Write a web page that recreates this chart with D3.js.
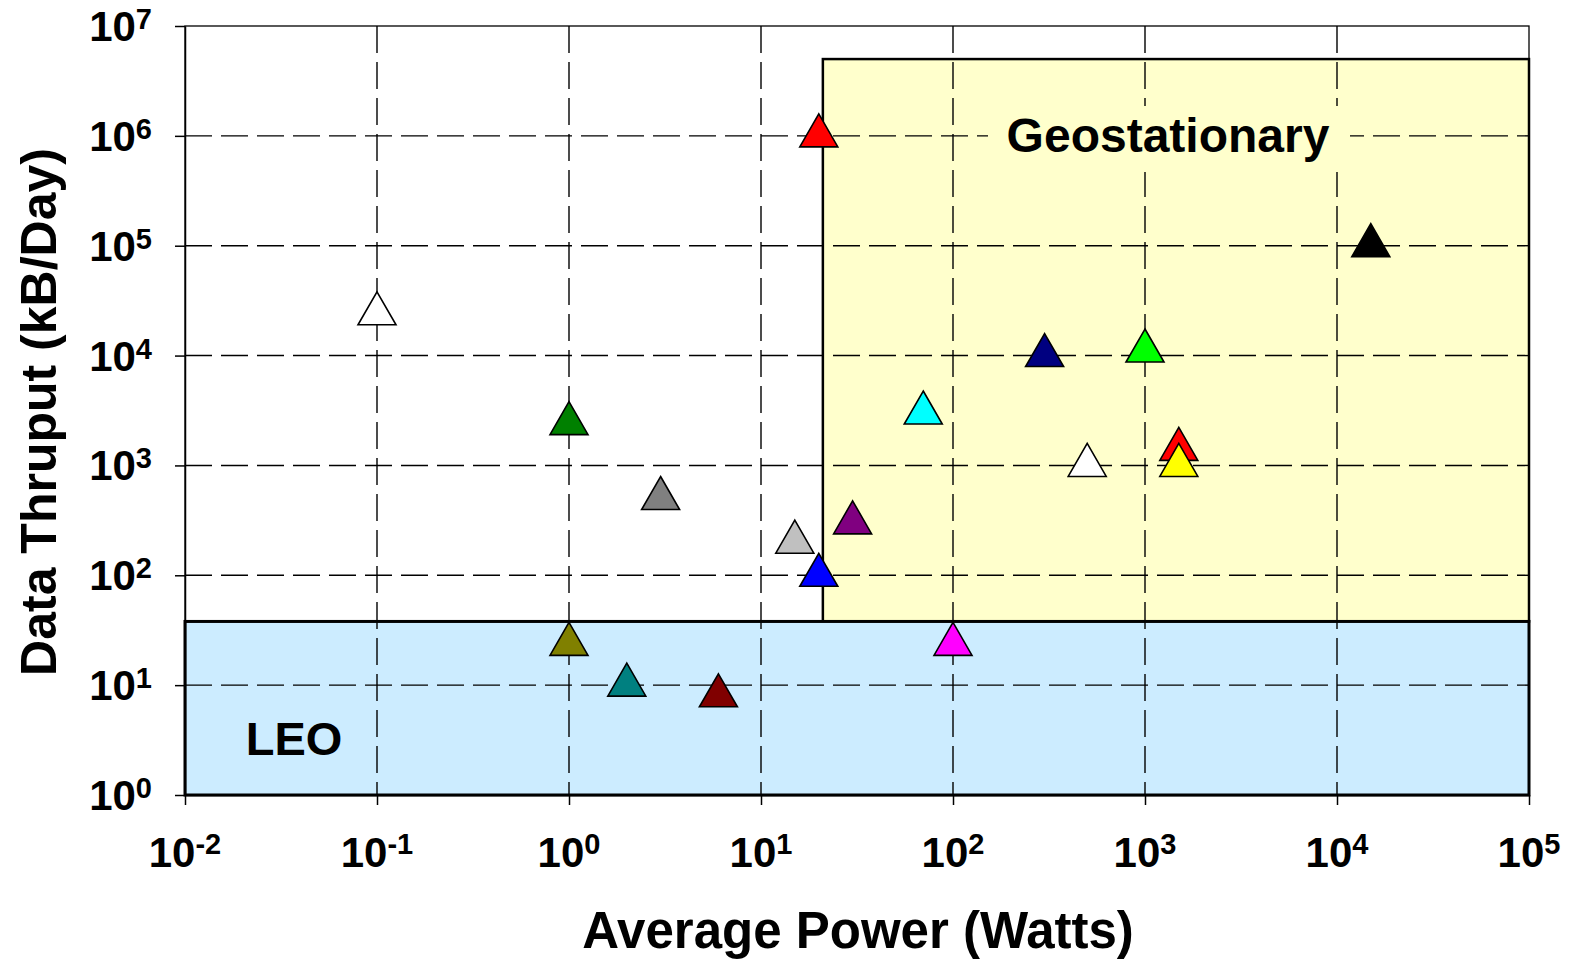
<!DOCTYPE html>
<html lang="en">
<head>
    <meta charset="UTF-8">
    <title>Data Thruput vs Average Power</title>
    <style>
        body { margin: 0; background: #fff; }
        text { font-family: "Liberation Sans", Arial, sans-serif; font-weight: bold; fill: #000; }
    </style>
</head>
<body>

    <script src="https://cdnjs.cloudflare.com/ajax/libs/d3/7.8.5/d3.min.js"></script>
    <script>
        // spacecraft points
        const powerW  = [0.1, 1, 3, 15, 20, 20, 30, 70, 300, 1000, 500, 1500, 1500, 15000, 100, 1, 2, 6];
        const thruput = [24000, 2400, 500, 200, 100, 1000000, 300, 3000, 10000, 11000, 1000, 1400, 1000, 100000, 23.5, 23.5, 10, 8];
        const colors  = ['#FFFFFF', '#008000', '#808080', '#C0C0C0', '#0000FF', '#FF0000', '#800080', '#00FFFF',
                         '#000080', '#00FF00', '#FFFFFF', '#FF0000', '#FFFF00', '#000000', '#FF00FF', '#808000',
                         '#008080', '#800000'];

        // orbit regions: [xmin, xmax] in W, [ymin, ymax] in kB/day
        const geoX = [21, 100000], geoY = [38, 5000000];
        const leoX = [0.01, 100000], leoY = [1, 38];

        const xTicks = [-2, -1, 0, 1, 2, 3, 4, 5];
        const yTicks = [0, 1, 2, 3, 4, 5, 6, 7];

        const chartWidth = 1574, chartHeight = 960;
        const plot = {left: 185, right: 1529, top: 26, bottom: 795};

        const svg = d3.select('body').append('svg')
                        .attr('width', chartWidth)
                        .attr('height', chartHeight);

        const x = d3.scaleLog().domain([1e-2, 1e5]).range([plot.left, plot.right]);
        const y = d3.scaleLog().domain([1, 1e7]).range([plot.bottom, plot.top]);

        // plot frame
        svg.append('rect')
            .attr('x', plot.left).attr('y', plot.top)
            .attr('width', plot.right - plot.left).attr('height', plot.bottom - plot.top)
            .attr('fill', '#fff').attr('stroke', '#000').attr('stroke-width', 1.3);

        // regions
        svg.append('rect')
            .attr('x', x(geoX[0])).attr('y', y(geoY[1]))
            .attr('width', x(geoX[1]) - x(geoX[0]))
            .attr('height', y(geoY[0]) - y(geoY[1]))
            .attr('fill', '#FFFFCC').attr('stroke', '#000').attr('stroke-width', 2.5);

        svg.append('rect')
            .attr('x', x(leoX[0])).attr('y', y(leoY[1]))
            .attr('width', x(leoX[1]) - x(leoX[0]))
            .attr('height', y(leoY[0]) - y(leoY[1]))
            .attr('fill', '#CCECFF').attr('stroke', '#000').attr('stroke-width', 3);

        // dashed grid
        const grid = svg.append('g')
                        .attr('stroke', '#000')
                        .attr('stroke-width', 1.4)
                        .attr('stroke-dasharray', '27,9');

        grid.selectAll('.vg').data(xTicks.slice(1, -1)).enter().append('line')
            .attr('x1', d => x(Math.pow(10, d))).attr('x2', d => x(Math.pow(10, d)))
            .attr('y1', plot.top).attr('y2', plot.bottom);

        grid.selectAll('.hg').data(yTicks.slice(1, -1)).enter().append('line')
            .attr('y1', d => y(Math.pow(10, d))).attr('y2', d => y(Math.pow(10, d)))
            .attr('x1', plot.left).attr('x2', plot.right);

        // region labels
        svg.append('rect')
            .attr('x', 988).attr('y', 106)
            .attr('width', 362).attr('height', 66)
            .attr('fill', '#FFFFCC');

        svg.append('text')
            .attr('x', 1168).attr('y', 152)
            .attr('text-anchor', 'middle')
            .style('font-size', '48px')
            .text('Geostationary');

        svg.append('text')
            .attr('x', 294).attr('y', 755)
            .attr('text-anchor', 'middle')
            .style('font-size', '47px')
            .text('LEO');

        // axes (ticks only, labels drawn below)
        const xAxis = d3.axisBottom(x)
                        .tickValues(xTicks.map(d => Math.pow(10, d)))
                        .tickFormat('')
                        .tickSize(10).tickSizeOuter(0);
        svg.append('g')
            .attr('transform', `translate(0, ${plot.bottom})`)
            .call(xAxis)
            .call(g => g.selectAll('line, path').attr('stroke', '#000').attr('stroke-width', 1.5));

        const yAxis = d3.axisLeft(y)
                        .tickValues(yTicks.map(d => Math.pow(10, d)))
                        .tickFormat('')
                        .tickSize(10).tickSizeOuter(0);
        svg.append('g')
            .attr('transform', `translate(${plot.left}, 0)`)
            .call(yAxis)
            .call(g => g.selectAll('line, path').attr('stroke', '#000').attr('stroke-width', 1.5));

        // power-of-ten tick labels
        const xLab = svg.selectAll('.xlab').data(xTicks).enter().append('text')
                        .attr('class', 'xlab')
                        .attr('x', d => x(Math.pow(10, d)))
                        .attr('y', 867)
                        .attr('text-anchor', 'middle');
        xLab.append('tspan').style('font-size', '42px').text('10');
        xLab.append('tspan').style('font-size', '29px').attr('dy', -13).text(d => d);

        const yLab = svg.selectAll('.ylab').data(yTicks).enter().append('text')
                        .attr('class', 'ylab')
                        .attr('x', 152)
                        .attr('y', d => y(Math.pow(10, d)) + 15)
                        .attr('text-anchor', 'end');
        yLab.append('tspan').style('font-size', '42px').text('10');
        yLab.append('tspan').style('font-size', '29px').attr('dy', -12).text(d => d);

        // axis titles
        svg.append('text')
            .attr('x', 858).attr('y', 948)
            .attr('text-anchor', 'middle')
            .style('font-size', '51px')
            .text('Average Power (Watts)');

        svg.append('text')
            .attr('transform', 'translate(56, 412) rotate(-90)')
            .attr('text-anchor', 'middle')
            .style('font-size', '50px')
            .text('Data Thruput (kB/Day)');

        // triangle markers, centred on the data point
        const tri = (w, h) => `M0,${-2 * h / 3}L${w / 2},${h / 3}L${-w / 2},${h / 3}Z`;

        svg.append('g').selectAll('path').data(powerW).enter().append('path')
            .attr('d', tri(38, 33))
            .attr('transform', (d, i) => `translate(${x(d)}, ${y(thruput[i])})`)
            .attr('fill', (d, i) => colors[i])
            .attr('stroke', '#000')
            .attr('stroke-width', 1.6)
            .attr('stroke-linejoin', 'miter');
    </script>

</body>
</html>
